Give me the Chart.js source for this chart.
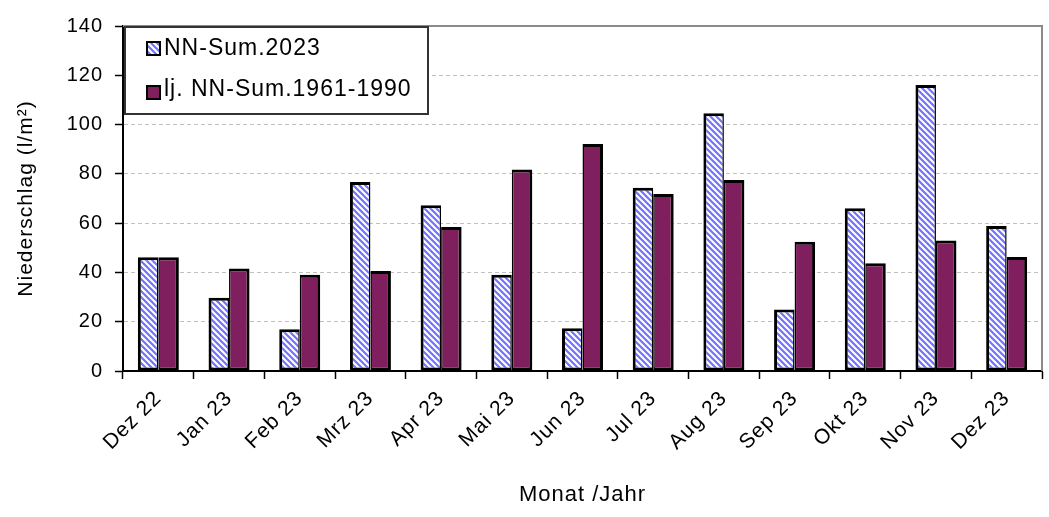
<!DOCTYPE html>
<html>
<head>
<meta charset="utf-8">
<script src="https://cdn.jsdelivr.net/npm/chart.js@4/dist/chart.umd.min.js"></script>
<style>
html,body{margin:0;padding:0;background:#fff;}
#wrap{width:1049px;height:517px;}
</style>
</head>
<body>
<div id="wrap"><canvas id="c" width="1049" height="517"></canvas></div>
<script>
const categories = ['Dez 22','Jan 23','Feb 23','Mrz 23','Apr 23','Mai 23','Jun 23','Jul 23','Aug 23','Sep 23','Okt 23','Nov 23','Dez 23'];
const nnSum2023 = [46.2, 29.7, 16.9, 76.7, 67.3, 39.1, 17.3, 74.4, 104.6, 25.0, 66.0, 116.1, 58.8];
const ljSum19611990 = [46.2, 41.6, 39.1, 40.6, 58.4, 81.8, 92.1, 71.8, 77.5, 52.5, 43.7, 53.0, 46.3];
const seriesLabels = ['NN-Sum.2023', 'lj. NN-Sum.1961-1990'];
const yTicks = [0, 20, 40, 60, 80, 100, 120, 140];

const FONT = "'Liberation Sans', Arial, sans-serif";
const PURPLE = '#801f5e';

function makePattern() {
  const p = document.createElement('canvas');
  p.width = 6; p.height = 6;
  const g = p.getContext('2d');
  g.fillStyle = '#ffffff';
  g.fillRect(0, 0, 6, 6);
  g.strokeStyle = '#7272ff';
  g.lineWidth = 2.2;
  g.beginPath();
  g.moveTo(-3, -3); g.lineTo(9, 9);
  g.moveTo(-3, 3); g.lineTo(3, 9);
  g.moveTo(3, -3); g.lineTo(9, 3);
  g.stroke();
  return g.createPattern(p, 'repeat');
}
const hatch = makePattern();

const spacingPlugin = {
  id: 'spacing',
  beforeLayout(chart) { chart.ctx.letterSpacing = '1px'; },
  beforeDraw(chart) { chart.ctx.letterSpacing = '1px'; }
};

const framePlugin = {
  id: 'frame',
  beforeDatasetsDraw(chart) {
    const {ctx, chartArea: a} = chart;
    ctx.save();
    ctx.strokeStyle = '#8a8a8a';
    ctx.lineWidth = 2;
    ctx.beginPath();
    ctx.moveTo(a.left, a.top);
    ctx.lineTo(a.right, a.top);
    ctx.lineTo(a.right, a.bottom);
    ctx.stroke();
    ctx.restore();
  }
};

const legendPlugin = {
  id: 'boxLegend',
  afterDatasetsDraw(chart) {
    const ctx = chart.ctx;
    ctx.save();
    ctx.letterSpacing = '1px';
    ctx.fillStyle = '#ffffff';
    ctx.fillRect(125, 27, 303, 87);
    ctx.strokeStyle = '#333333';
    ctx.lineWidth = 2;
    ctx.strokeRect(125, 27, 303, 87);
    const rows = [{y: 49, my: 49}, {y: 90, my: 93}];
    chart.data.datasets.forEach((ds, i) => {
      const r = rows[i];
      ctx.fillStyle = ds.backgroundColor;
      ctx.fillRect(147, r.my - 7, 13, 13);
      ctx.strokeStyle = '#000';
      ctx.lineWidth = 2;
      ctx.strokeRect(147, r.my - 7, 13, 13);
      ctx.fillStyle = '#000';
      ctx.font = '23px ' + FONT;
      ctx.textBaseline = 'middle';
      ctx.textAlign = 'left';
      ctx.fillText(ds.label, 164, r.y);
    });
    ctx.restore();
  }
};

new Chart(document.getElementById('c'), {
  type: 'bar',
  data: {
    labels: categories,
    datasets: [
      { label: seriesLabels[0], data: nnSum2023, backgroundColor: hatch, borderColor: '#000',
        borderWidth: { top: 3, left: 3, bottom: 3, right: 1.5 }, borderSkipped: false },
      { label: seriesLabels[1], data: ljSum19611990, backgroundColor: PURPLE, borderColor: '#000',
        borderWidth: { top: 3, left: 1.5, bottom: 3, right: 3 }, borderSkipped: false }
    ]
  },
  options: {
    responsive: false,
    animation: false,
    devicePixelRatio: 1,
    layout: { padding: { top: 26, right: 7, left: 0, bottom: 0 } },
    categoryPercentage: 0.58,
    barPercentage: 1.0,
    plugins: { legend: { display: false }, tooltip: { enabled: false } },
    scales: {
      x: {
        grid: { display: true, offset: true, drawOnChartArea: false, color: '#000', tickColor: '#000', tickLength: 8, tickWidth: 1.5 },
        border: { display: true, color: '#000', width: 2 },
        ticks: { color: '#000', font: { family: FONT, size: 21 }, minRotation: 45, maxRotation: 45, padding: 7, autoSkip: false },
        title: { display: true, text: 'Monat /Jahr', color: '#000', font: { family: FONT, size: 22 }, padding: { top: 0, bottom: 9 } },
        afterFit(s) { s.height = 146; }
      },
      y: {
        min: 0, max: 140,
        afterBuildTicks(s) { s.ticks = yTicks.map(v => ({ value: v })); },
        grid: {
          color: (c) => (c.tick && (c.tick.value === 0 || c.tick.value === 140)) ? 'rgba(0,0,0,0)' : '#c0c0c0',
          lineWidth: 1, tickColor: '#000', tickLength: 8, tickWidth: 1.5, tickBorderDash: []
        },
        border: { display: true, color: '#000', width: 2, dash: [4, 3] },
        ticks: { color: '#000', font: { family: FONT, size: 20 }, padding: 12 },
        title: { display: true, text: 'Niederschlag (l/m²)', color: '#000', font: { family: FONT, size: 21 }, padding: { top: 14, bottom: 0 } },
        afterFit(s) { s.width = 123; }
      }
    }
  },
  plugins: [spacingPlugin, framePlugin, legendPlugin]
});
</script>
</body>
</html>
